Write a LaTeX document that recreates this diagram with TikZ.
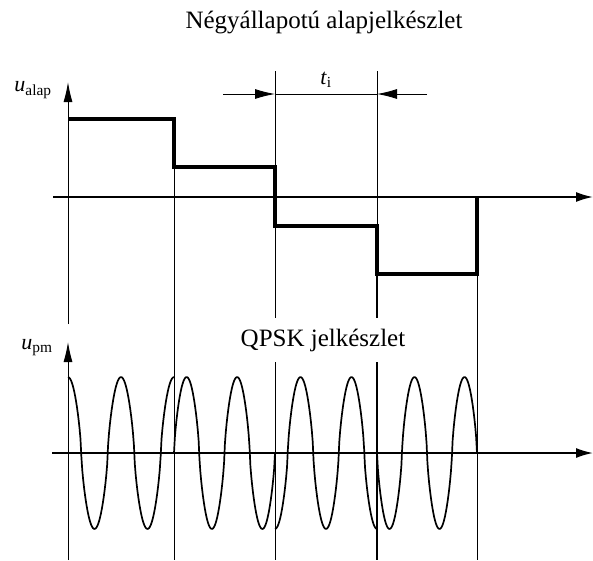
\documentclass[tikz,border=0pt]{standalone}
\usepackage{fontspec}
\setmainfont{Liberation Serif}
\usetikzlibrary{arrows.meta}

\begin{document}
\begin{tikzpicture}[
    x=1pt, y=-1pt,
    haxis/.style={line width=1.7pt, -{Latex[length=17pt,width=10pt]}},
    vaxis/.style={line width=1pt, -{Latex[length=20pt,width=9pt]}},
    thinline/.style={line width=0.9pt},
    stair/.style={line width=3.6pt},
    wave/.style={line width=1.7pt, line join=round},
    dimarrow/.style={line width=0.9pt, -{Latex[length=20pt,width=10pt]}},
    txt/.style={font=\fontsize{25}{30}\selectfont, inner sep=0pt},
    sym/.style={font=\fontsize{22}{26}\selectfont, inner sep=0pt},
    declare function={sq(\c)=\c/(abs(\c)+0.002)^0.3;}
]
\useasboundingbox (0,0) rectangle (593,560);

\def\amp{76}     % carrier amplitude
\def\zero{453}   % carrier axis

% ── Axes ─────────────────────────────────────────────────────────────────────
\coordinate (xa1) at (53,197);  \coordinate (xb1) at (593,197);
\coordinate (xa2) at (52,\zero); \coordinate (xb2) at (593,\zero);
\coordinate (ya1) at (68,324);  \coordinate (yb1) at (68,82);
\coordinate (ya2) at (68,560);  \coordinate (yb2) at (68,342);
\draw[haxis] (xa1) -- (xb1);
\draw[haxis] (xa2) -- (xb2);
\draw[vaxis] (ya1) -- (yb1);
\draw[vaxis] (ya2) -- (yb2);

% ── Symbol boundaries ────────────────────────────────────────────────────────
\draw[thinline] (174,119) -- (174,560);
\draw[thinline] (275,71) -- (275,560);
\draw[thinline] (377,71) -- (377,274);
\draw[line width=1.6pt] (377,274) -- (377,560);
\draw[thinline] (477,197) -- (477,560);

% ── Four-level baseband signal ───────────────────────────────────────────────
\draw[stair] (68,119) -- (174,119) -- (174,167) -- (275,167) -- (275,226)
    -- (377,226) -- (377,274) -- (477,274) -- (477,197);

% ── Symbol time ──────────────────────────────────────────────────────────────
\coordinate (tl) at (223,94); \coordinate (tla) at (275,94);
\coordinate (tr) at (427,94); \coordinate (tra) at (377,94);
\draw[thinline] (tla) -- (tra);
\draw[dimarrow] (tl) -- (tla);
\draw[dimarrow] (tr) -- (tra);
\node[sym] (ti) at (326,80) {\textit{t}\textsubscript{i}};

% ── QPSK carrier, one phase per symbol ───────────────────────────────────────
\foreach \a/\b/\ph in {68/174/0, 174/275/-90, 275/377/180, 377/477/90} {
    \draw[wave] plot[domain=\a:\b, samples=120, variable=\t]
        (\t, {\zero-\amp*sq(cos(720/(\b-\a)*(\t-\a)+\ph))});
}

% ── Labels ───────────────────────────────────────────────────────────────────
\node[txt] (title) at (324,23) {Négyállapotú alapjelkészlet};
\node[txt, fill=white, inner xsep=5pt, minimum height=44pt] (qpsk) at (323,340) {QPSK jelkészlet};
\node[sym] (ualap) at (33,90) {\textit{u}\textsubscript{alap}};
\node[sym] (upm) at (37,348) {\textit{u}\textsubscript{pm}};

\end{tikzpicture}
\end{document}
